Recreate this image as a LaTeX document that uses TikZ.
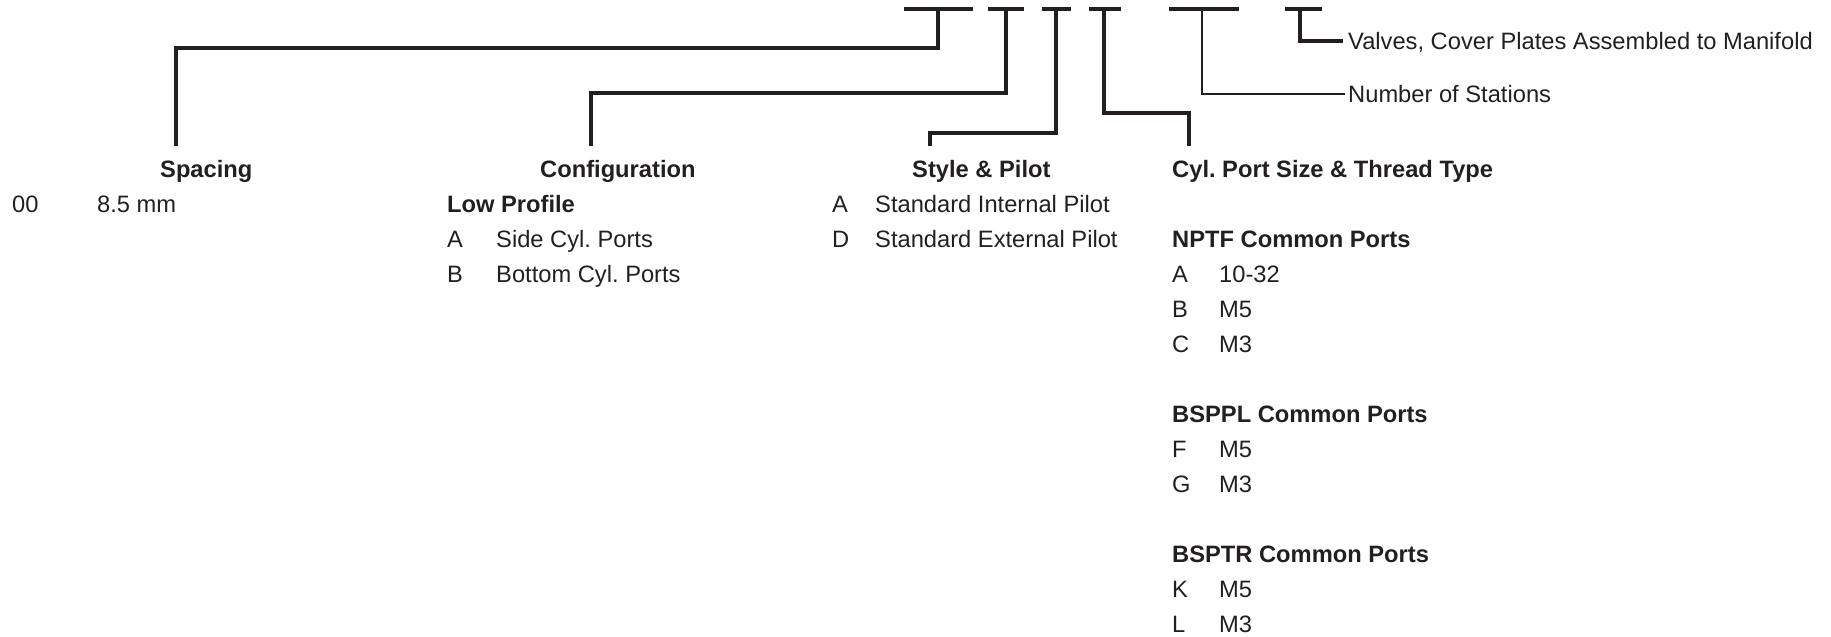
\documentclass[tikz,border=0pt]{standalone}
\usepackage{fontspec}
\setmainfont{Liberation Sans}
\definecolor{ink}{RGB}{35,31,32}
\frenchspacing

\begin{document}
\begin{tikzpicture}[x=1pt,y=-1pt,
    txt/.style={anchor=base west, inner sep=0pt, text=ink, font=\fontsize{23.7}{28}\selectfont},
    hdr/.style={txt, font=\fontsize{23.7}{28}\selectfont\bfseries},
    bar/.style={draw=ink, line width=3.6pt},
    lead/.style={draw=ink, line width=3.2pt}]
  \useasboundingbox (0,0) rectangle (1831,637);

  % code bars along the top
  \coordinate (sp1) at (904,9);  \coordinate (sp2) at (973,9);
  \coordinate (cf1) at (988,9);  \coordinate (cf2) at (1024,9);
  \coordinate (st1) at (1042,9); \coordinate (st2) at (1071,9);
  \coordinate (cy1) at (1089,9); \coordinate (cy2) at (1121,9);
  \coordinate (ns1) at (1169,9); \coordinate (ns2) at (1239,9);
  \coordinate (va1) at (1285,9); \coordinate (va2) at (1322,9);
  \draw[bar] (sp1) -- (sp2);
  \draw[bar] (cf1) -- (cf2);
  \draw[bar] (st1) -- (st2);
  \draw[bar] (cy1) -- (cy2);
  \draw[bar] (ns1) -- (ns2);
  \draw[bar] (va1) -- (va2);

  % leader tops and feet
  \coordinate (spT) at (938,9);  \coordinate (spF) at (176,146);
  \coordinate (cfT) at (1006,9); \coordinate (cfF) at (591,146);
  \coordinate (stT) at (1056,9); \coordinate (stF) at (930,146);
  \coordinate (cyT) at (1104,9); \coordinate (cyF) at (1189,146);
  \coordinate (nsT) at (1202,9); \coordinate (nsE) at (1345,94);
  \coordinate (vaT) at (1300,9); \coordinate (vaE) at (1343,41);

  \draw[lead] (spT) -- ++(0,39) -| (spF);
  \draw[lead] (cfT) -- ++(0,84) -| (cfF);
  \draw[lead] (stT) -- ++(0,124) -| (stF);
  \draw[lead] (cyT) -- ++(0,104) -| (cyF);
  \draw[lead, line width=2.4pt] (nsT) |- (nsE);
  \draw[lead] (vaT) |- (vaE);

  \node (va) [txt] at (1348,49.5) {Valves, Cover Plates Assembled to Manifold};
  \node (ns) [txt] at (1348,102.5) {Number of Stations};

  % headings
  \node (spH) [hdr] at (160,177) {Spacing};
  \node (cfH) [hdr] at (540,177) {Configuration};
  \node (stH) [hdr] at (912,177) {Style \& Pilot};
  \node (cyH) [hdr] at (1172,177) {Cyl. Port Size \& Thread Type};

  % spacing
  \node (sp00) [txt] at (12,212) {00};
  \node (sp00t) [txt] at (97,212) {8.5 mm};

  % configuration
  \node (cfLP) [hdr] at (447,212) {Low Profile};
  \node (cfA) [txt] at (447,247) {A};
  \node (cfAt) [txt] at (496,247) {Side Cyl. Ports};
  \node (cfB) [txt] at (447,282) {B};
  \node (cfBt) [txt] at (496,282) {Bottom Cyl. Ports};

  % style & pilot
  \node (stA) [txt] at (832,212) {A};
  \node (stAt) [txt] at (875,212) {Standard Internal Pilot};
  \node (stD) [txt] at (832,247) {D};
  \node (stDt) [txt] at (875,247) {Standard External Pilot};

  % cyl. port size & thread type
  \node (cyN) [hdr] at (1172,247) {NPTF Common Ports};
  \node (cyA) [txt] at (1172,282) {A};
  \node (cyAt) [txt] at (1219,282) {10-32};
  \node (cyB) [txt] at (1172,317) {B};
  \node (cyBt) [txt] at (1219,317) {M5};
  \node (cyC) [txt] at (1172,352) {C};
  \node (cyCt) [txt] at (1219,352) {M3};

  \node (cyP) [hdr] at (1172,422) {BSPPL Common Ports};
  \node (cyF) [txt] at (1172,457) {F};
  \node (cyFt) [txt] at (1219,457) {M5};
  \node (cyG) [txt] at (1172,492) {G};
  \node (cyGt) [txt] at (1219,492) {M3};

  \node (cyR) [hdr] at (1172,562) {BSPTR Common Ports};
  \node (cyK) [txt] at (1172,597) {K};
  \node (cyKt) [txt] at (1219,597) {M5};
  \node (cyL) [txt] at (1172,632) {L};
  \node (cyLt) [txt] at (1219,632) {M3};
\end{tikzpicture}
\end{document}
